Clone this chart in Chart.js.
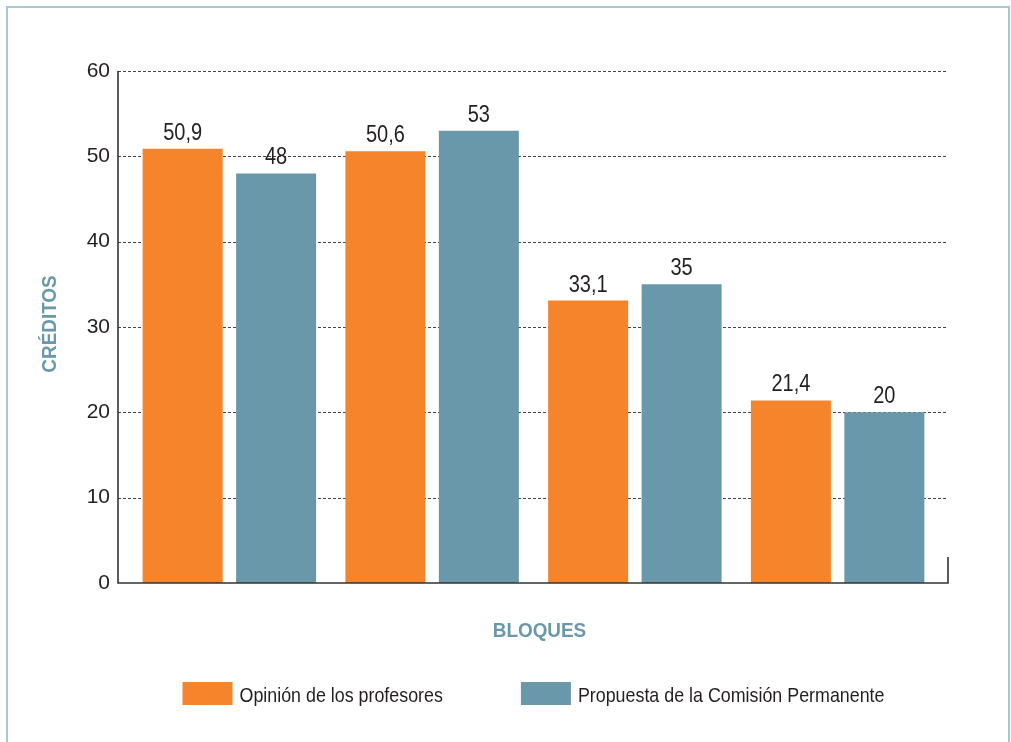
<!DOCTYPE html>
<html lang="es">
<head>
<meta charset="UTF-8">
<script src="https://cdn.jsdelivr.net/npm/chart.js@4/dist/chart.umd.min.js"></script>
<title>Créditos por bloques</title>
<style>
  body { margin: 0; background: #fff; overflow: hidden; }
  #frame { position: absolute; left: 6px; top: 6px; width: 1000px; height: 800px;
           border: 2px solid #a9c6d3; }
  #wrap { position: absolute; left: 0; top: 0; width: 1011px; height: 742px; }
</style>
</head>
<body>
<div id="frame"></div>
<div id="wrap"><canvas id="grafico" width="1011" height="742"></canvas></div>
<script>
  // datos
  var bloques = ['Bloque 1', 'Bloque 2', 'Bloque 3', 'Bloque 4'];
  var opinionProfesores = [50.9, 50.6, 33.1, 21.4];
  var propuestaComision = [48, 53, 35, 20];
  var yTicks = [0, 10, 20, 30, 40, 50, 60];

  var naranja = '#f5842a';
  var azul = '#6a98ab';
  var texto = '#231f20';
  var fuente = 'Liberation Sans, Arial, sans-serif';

  function coma(v) { return String(v).replace('.', ','); }

  // texto estrecho (la fuente original es condensada)
  function estrecho(c, t, x, y, sx, rot) {
    c.save();
    c.translate(x, y);
    if (rot) c.rotate(rot);
    c.scale(sx, 1);
    c.fillText(t, 0, 0);
    c.restore();
  }

  var ejes = {
    id: 'ejes',
    beforeDatasetsDraw: function (chart) {
      var c = chart.ctx, a = chart.chartArea, y = chart.scales.y;
      var x0 = a.left - 10, x1 = a.right + 9;
      c.save();
      c.strokeStyle = '#444';
      c.lineWidth = 1;
      c.setLineDash([3, 2]);
      yTicks.forEach(function (t) {
        if (t === 0) return;
        var py = Math.round(y.getPixelForValue(t)) + 0.5;
        c.beginPath(); c.moveTo(x0, py); c.lineTo(x1, py); c.stroke();
      });
      c.restore();
    },
    afterDatasetsDraw: function (chart) {
      var c = chart.ctx, a = chart.chartArea, y = chart.scales.y;
      var x0 = a.left - 10, x1 = a.right + 9;
      var top = y.getPixelForValue(60), bot = y.getPixelForValue(0);
      c.save();
      c.strokeStyle = '#333';
      c.lineWidth = 1.6;
      c.beginPath();
      c.moveTo(x0, top); c.lineTo(x0, bot); c.lineTo(x1, bot); c.lineTo(x1, bot - 26);
      c.stroke();

      // etiquetas de valor
      c.fillStyle = texto;
      c.font = '23px ' + fuente;
      c.textAlign = 'center';
      c.textBaseline = 'alphabetic';
      chart.data.datasets.forEach(function (ds, i) {
        chart.getDatasetMeta(i).data.forEach(function (bar, j) {
          estrecho(c, coma(ds.data[j]), bar.x, bar.y - 9, 0.87);
        });
      });

      // titulos de ejes
      c.fillStyle = azul;
      c.font = 'bold 21px ' + fuente;
      estrecho(c, 'BLOQUES', (a.left + a.right) / 2 + 6, 637, 0.9);
      estrecho(c, 'CRÉDITOS', 56, 324, 0.9, -Math.PI / 2);

      // leyenda
      c.font = '21px ' + fuente;
      c.textAlign = 'left';
      var sx = 0.85;
      var items = chart.data.datasets.map(function (ds) {
        return { label: ds.label, color: ds.backgroundColor, w: 50 + 7 + c.measureText(ds.label).width * sx };
      });
      var gap = 78;
      var total = items.reduce(function (s, it) { return s + it.w; }, 0) + gap * (items.length - 1);
      var lx = (a.left + a.right) / 2 - total / 2;
      items.forEach(function (it) {
        c.fillStyle = it.color;
        c.fillRect(lx, 682, 50, 23);
        c.fillStyle = texto;
        estrecho(c, it.label, lx + 57, 702, sx);
        lx += it.w + gap;
      });
      c.restore();
    }
  };

  new Chart(document.getElementById('grafico'), {
    type: 'bar',
    data: {
      labels: bloques,
      datasets: [
        { label: 'Opinión de los profesores', data: opinionProfesores, backgroundColor: naranja },
        { label: 'Propuesta de la Comisión Permanente', data: propuestaComision, backgroundColor: azul }
      ]
    },
    options: {
      responsive: false,
      devicePixelRatio: 1,
      animation: false,
      categoryPercentage: 0.922,
      barPercentage: 0.856,
      layout: { padding: { top: 71, right: 72, bottom: 89, left: 0 } },
      plugins: { legend: { display: false }, tooltip: { enabled: false } },
      scales: {
        x: {
          grid: { display: false, drawTicks: false },
          border: { display: false },
          ticks: { display: false },
          afterFit: function (s) { s.height = 70; }
        },
        y: {
          min: 0, max: 60,
          grid: { display: false, drawTicks: false },
          border: { display: false },
          afterBuildTicks: function (s) { s.ticks = yTicks.map(function (v) { return { value: v }; }); },
          ticks: { color: texto, font: { family: fuente, size: 21 }, padding: 18 },
          afterFit: function (s) { s.width = 128; }
        }
      }
    },
    plugins: [ejes]
  });
</script>
</body>
</html>
